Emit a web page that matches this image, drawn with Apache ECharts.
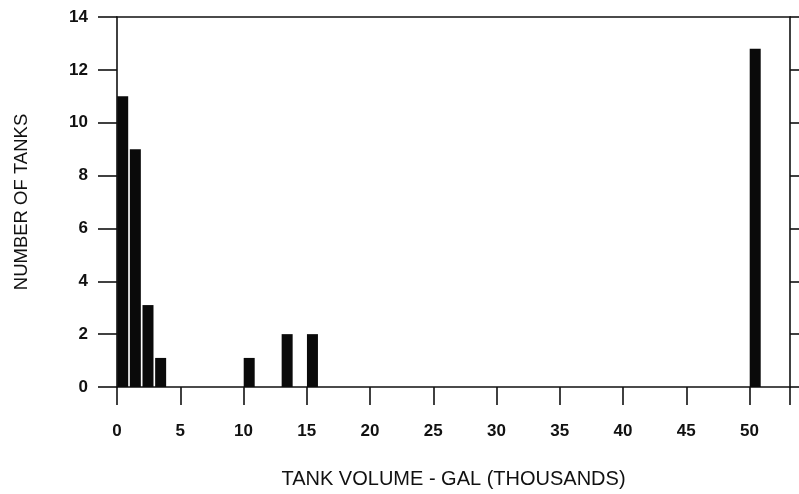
<!DOCTYPE html>
<html>
<head>
<meta charset="utf-8">
<script src="https://cdn.jsdelivr.net/npm/echarts@6/dist/echarts.min.js"></script>
<style>html,body{margin:0;padding:0;background:#fff;}#chart{width:799px;height:494px;}</style>
</head>
<body>
<div id="chart"></div>
<script>
// Tank volume bins (thousands of gallons, bar centre) and number of tanks
var volumes = [0.45, 1.45, 2.45, 3.45, 10.45, 13.45, 15.45, 50.45];
var counts = [11, 9, 3.1, 1.1, 1.1, 2, 2, 12.8];
var xTicks = [0, 5, 10, 15, 20, 25, 30, 35, 40, 45, 50];
var yTicks = [0, 2, 4, 6, 8, 10, 12, 14];
var xTitle = 'TANK VOLUME - GAL (THOUSANDS)';
var yTitle = 'NUMBER OF TANKS';

var data = volumes.map(function (v, i) { return [v, counts[i]]; });
var ink = '#111';
var font = '"Liberation Sans", Arial, Helvetica, sans-serif';

var chart = echarts.init(document.getElementById('chart'), null, { renderer: 'canvas' });
chart.setOption({
  backgroundColor: '#fff',
  animation: false,
  grid: { left: 117, right: 9, top: 17, bottom: 99 },
  xAxis: [{
    type: 'value', min: 0, max: 53.2, interval: 5,
    name: xTitle, nameLocation: 'middle', nameGap: 82,
    nameTextStyle: { fontFamily: font, fontSize: 20, color: ink },
    axisLine: { onZero: false, lineStyle: { color: ink, width: 1.6 } },
    axisTick: { length: 18, lineStyle: { color: ink, width: 1.6 } },
    axisLabel: {
      margin: 36, color: ink, fontFamily: font, fontSize: 17, fontWeight: 'bold',
      formatter: function (v) { return xTicks.indexOf(v) >= 0 ? String(v) : ''; }
    },
    splitLine: { show: false }
  }, {
    type: 'value', position: 'top', min: 0, max: 53.2, interval: 5,
    axisLine: { onZero: false, lineStyle: { color: ink, width: 1.6 } },
    axisTick: { show: false }, axisLabel: { show: false }, splitLine: { show: false }
  }],
  yAxis: [{
    type: 'value', min: 0, max: 14, interval: 2,
    name: yTitle, nameLocation: 'middle', nameGap: 86, nameRotate: 90,
    nameTextStyle: { fontFamily: font, fontSize: 18.5, color: ink },
    axisLine: { show: true, onZero: false, lineStyle: { color: ink, width: 1.6 } },
    axisTick: { show: true, length: 19, lineStyle: { color: ink, width: 1.6 } },
    axisLabel: {
      margin: 29, color: ink, fontFamily: font, fontSize: 17, fontWeight: 'bold',
      formatter: function (v) { return yTicks.indexOf(v) >= 0 ? String(v) : ''; }
    },
    splitLine: { show: false }
  }, {
    type: 'value', position: 'right', min: 0, max: 14, interval: 2,
    axisLine: { show: true, onZero: false, lineStyle: { color: ink, width: 1.6 } },
    axisTick: { show: true, length: 10, lineStyle: { color: ink, width: 1.6 } },
    axisLabel: { show: false }, splitLine: { show: false }
  }],
  series: [{
    type: 'bar', xAxisIndex: 0, yAxisIndex: 0,
    data: data, barWidth: 11,
    itemStyle: { color: '#0a0a0a' }
  }]
});
</script>
</body>
</html>
